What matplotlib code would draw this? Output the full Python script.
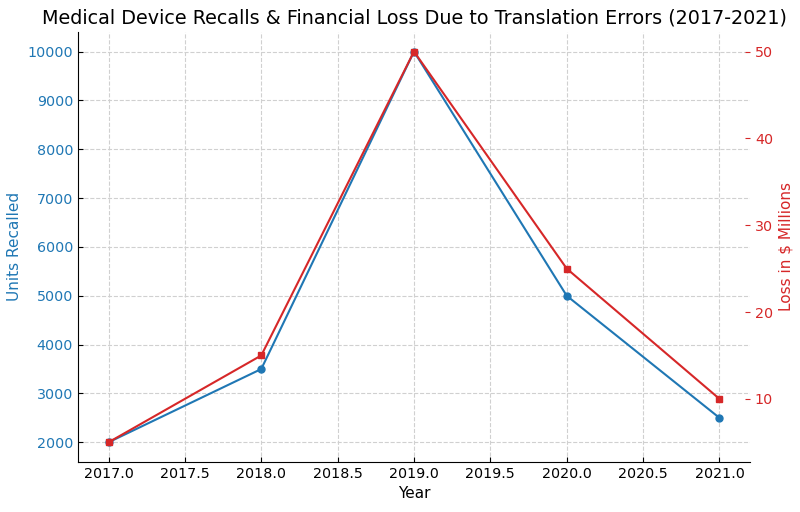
import matplotlib
matplotlib.use("Agg")
import matplotlib.pyplot as plt

years = [2017, 2018, 2019, 2020, 2021]
units_recalled = [2000, 3500, 10000, 5000, 2500]
loss_millions = [5, 15, 50, 25, 10]

blue = "#1f77b4"
red = "#d62728"

fig = plt.figure(figsize=(8, 5.12), dpi=100)
ax1 = fig.add_axes([0.0975, 0.098, 0.84, 0.8395])
ax1.plot(years, units_recalled, color=blue, marker="o", markersize=5, linewidth=1.5)
ax1.set_xlabel("Year", fontsize=11)
ax1.set_ylabel("Units Recalled", color=blue, fontsize=11)
ax1.tick_params(axis="y", labelcolor=blue, direction="in", labelsize=10.3)
ax1.tick_params(axis="x", direction="in", labelsize=10.3)
ax1.grid(True, linestyle="--", color="#d0d0d0", linewidth=0.8)
ax1.spines["top"].set_visible(False)
ax1.spines["right"].set_visible(False)

ax2 = ax1.twinx()
ax2.plot(years, loss_millions, color=red, marker="s", markersize=5, linewidth=1.5)
ax2.set_ylabel("Loss in $ Millions", color=red, fontsize=11)
ax2.tick_params(axis="y", labelcolor=red, colors=red, direction="in", labelsize=10.3)
for s in ["top", "right", "left", "bottom"]:
    ax2.spines[s].set_visible(False)

ax1.set_title("Medical Device Recalls & Financial Loss Due to Translation Errors (2017-2021)", fontsize=13.8)

fig.savefig("out.png", dpi=100)
